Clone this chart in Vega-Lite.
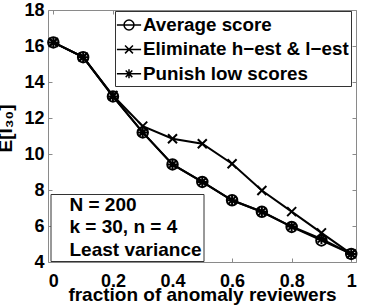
{
  "$schema": "https://vega.github.io/schema/vega-lite/v6.json",
  "width": 308,
  "height": 252,
  "autosize": {"type": "none"},
  "padding": {"left": 48, "top": 10, "right": 22, "bottom": 44},
  "background": "white",
  "config": {
    "view": {"stroke": null},
    "font": "Liberation Sans",
    "axis": {
      "labelFont": "Liberation Sans",
      "labelFontWeight": "bold",
      "labelFontSize": 18,
      "labelColor": "black",
      "domainColor": "#8a8a8a",
      "tickColor": "#8a8a8a",
      "tickSize": -4,
      "grid": false,
      "titleFont": "Liberation Sans",
      "titleFontWeight": "bold",
      "titleFontSize": 19,
      "titleColor": "black"
    }
  },
  "datasets": {
    "series": [
      {"series": "Average score", "x": 0, "y": 16.2},
      {"series": "Average score", "x": 0.1, "y": 15.38},
      {"series": "Average score", "x": 0.2, "y": 13.2},
      {"series": "Average score", "x": 0.3, "y": 11.2},
      {"series": "Average score", "x": 0.4, "y": 9.42},
      {"series": "Average score", "x": 0.5, "y": 8.45},
      {"series": "Average score", "x": 0.6, "y": 7.43},
      {"series": "Average score", "x": 0.7, "y": 6.79},
      {"series": "Average score", "x": 0.8, "y": 5.95},
      {"series": "Average score", "x": 0.9, "y": 5.2},
      {"series": "Average score", "x": 1, "y": 4.45},
      {"series": "Eliminate h−est & l−est", "x": 0, "y": 16.2},
      {"series": "Eliminate h−est & l−est", "x": 0.1, "y": 15.38},
      {"series": "Eliminate h−est & l−est", "x": 0.2, "y": 13.25},
      {"series": "Eliminate h−est & l−est", "x": 0.3, "y": 11.55},
      {"series": "Eliminate h−est & l−est", "x": 0.4, "y": 10.85},
      {"series": "Eliminate h−est & l−est", "x": 0.5, "y": 10.57},
      {"series": "Eliminate h−est & l−est", "x": 0.6, "y": 9.46},
      {"series": "Eliminate h−est & l−est", "x": 0.7, "y": 7.97},
      {"series": "Eliminate h−est & l−est", "x": 0.8, "y": 6.8},
      {"series": "Eliminate h−est & l−est", "x": 0.9, "y": 5.62},
      {"series": "Eliminate h−est & l−est", "x": 1, "y": 4.45},
      {"series": "Punish low scores", "x": 0, "y": 16.2},
      {"series": "Punish low scores", "x": 0.1, "y": 15.38},
      {"series": "Punish low scores", "x": 0.2, "y": 13.2},
      {"series": "Punish low scores", "x": 0.3, "y": 11.2},
      {"series": "Punish low scores", "x": 0.4, "y": 9.42},
      {"series": "Punish low scores", "x": 0.5, "y": 8.45},
      {"series": "Punish low scores", "x": 0.6, "y": 7.43},
      {"series": "Punish low scores", "x": 0.7, "y": 6.79},
      {"series": "Punish low scores", "x": 0.8, "y": 5.97},
      {"series": "Punish low scores", "x": 0.9, "y": 5.28},
      {"series": "Punish low scores", "x": 1, "y": 4.45}
    ],
    "notes": [
      {"note": "N = 200"},
      {"note": "k = 30, n = 4"},
      {"note": "Least variance"}
    ]
  },
  "layer": [
    {
      "data": {"name": "notes"},
      "mark": {"type": "point", "opacity": 0},
      "encoding": {
        "color": {
          "field": "note",
          "type": "nominal",
          "scale": {"domain": ["N = 200", "k = 30, n = 4", "Least variance"], "range": ["transparent", "transparent", "transparent"]},
          "legend": {
            "title": null,
            "orient": "none",
            "legendX": 2.5,
            "legendY": 184,
            "padding": 1,
            "rowPadding": 2.6,
            "symbolSize": 1,
            "symbolOpacity": 0,
            "symbolStrokeWidth": 0,
            "labelOffset": -1,
            "labelFont": "Liberation Sans",
            "labelFontWeight": "bold",
            "labelFontSize": 19,
            "labelColor": "black",
            "labelLimit": 400,
            "fillColor": "white",
            "strokeColor": "#333333"
          }
        }
      }
    },
    {
      "data": {"name": "series"},
      "mark": {"type": "point", "opacity": 0, "filled": false, "color": "black", "strokeWidth": 1.5},
      "encoding": {
        "x": {"field": "x", "type": "quantitative", "axis": null},
        "y": {"field": "y", "type": "quantitative", "axis": null},
        "shape": {
          "field": "series",
          "type": "nominal",
          "scale": {
            "domain": ["Average score", "Eliminate h−est & l−est", "Punish low scores"],
            "range": [
              "M-1.1,0L1.1,0M-0.45,0A0.45,0.45,0,1,1,0.45,0A0.45,0.45,0,1,1,-0.45,0",
              "M-1.1,0L1.1,0M-0.36,-0.36L0.36,0.36M-0.36,0.36L0.36,-0.36",
              "M-1.1,0L1.1,0M0,-0.41L0,0.41M-0.3,-0.3L0.3,0.3M-0.3,0.3L0.3,-0.3"
            ]
          },
          "legend": {
            "title": null,
            "orient": "none",
            "legendX": 67,
            "legendY": 1,
            "padding": 2,
            "rowPadding": 2.4,
            "symbolSize": 484,
            "labelOffset": 2,
            "symbolStrokeWidth": 1.5,
            "symbolStrokeColor": "black",
            "symbolFillColor": "transparent",
            "symbolOpacity": 1,
            "labelFont": "Liberation Sans",
            "labelFontWeight": "bold",
            "labelFontSize": 18.8,
            "labelColor": "black",
            "labelLimit": 400,
            "fillColor": "white",
            "strokeColor": "#333333",
            "encode": {
              "symbols": {
                "size": {"value": 484},
                "opacity": {"value": 1},
                "strokeWidth": {"value": 1.5}
              }
            }
          }
        }
      }
    },
    {
      "data": {"name": "series"},
      "mark": {"type": "line", "color": "black", "strokeWidth": 2},
      "encoding": {
        "x": {
          "field": "x",
          "type": "quantitative",
          "scale": {"domain": [-0.018, 1.016], "nice": false, "zero": false},
          "axis": {"orient": "bottom", "values": [0, 0.2, 0.4, 0.6, 0.8, 1], "format": "~g", "labelPadding": 14, "title": "fraction of anomaly reviewers", "titleY": 38, "titleBaseline": "alphabetic", "labelFlush": false}
        },
        "y": {
          "field": "y",
          "type": "quantitative",
          "scale": {"domain": [4, 18], "nice": false, "zero": false},
          "axis": {"orient": "left", "values": [4, 6, 8, 10, 12, 14, 16, 18], "labelPadding": 8, "title": "E[I₃₀]", "titleX": -37, "titleY": 118, "titleBaseline": "alphabetic", "labelFlush": false}
        },
        "detail": {"field": "series", "type": "nominal"}
      }
    },
    {
      "data": {"name": "series"},
      "mark": {"type": "point", "color": "black", "filled": false, "strokeWidth": 2, "size": 100, "opacity": 1},
      "encoding": {
        "x": {
          "field": "x",
          "type": "quantitative",
          "axis": {"orient": "top", "values": [0, 0.2, 0.4, 0.6, 0.8, 1], "labels": false, "title": null}
        },
        "y": {
          "field": "y",
          "type": "quantitative",
          "axis": {"orient": "right", "values": [4, 6, 8, 10, 12, 14, 16, 18], "labels": false, "title": null}
        },
        "shape": {
          "field": "series",
          "type": "nominal",
          "scale": {
            "domain": ["Average score", "Eliminate h−est & l−est", "Punish low scores"],
            "range": [
              "M-1.05,0A1.05,1.05,0,1,1,1.05,0A1.05,1.05,0,1,1,-1.05,0Z",
              "M-0.9,-0.9L0.9,0.9M-0.9,0.9L0.9,-0.9",
              "M0,-1L0,1M-1,0L1,0M-0.72,-0.72L0.72,0.72M-0.72,0.72L0.72,-0.72"
            ]
          },
          "legend": null
        }
      }
    }
  ],
  "resolve": {"axis": {"x": "independent", "y": "independent"}, "scale": {"shape": "independent"}}
}
